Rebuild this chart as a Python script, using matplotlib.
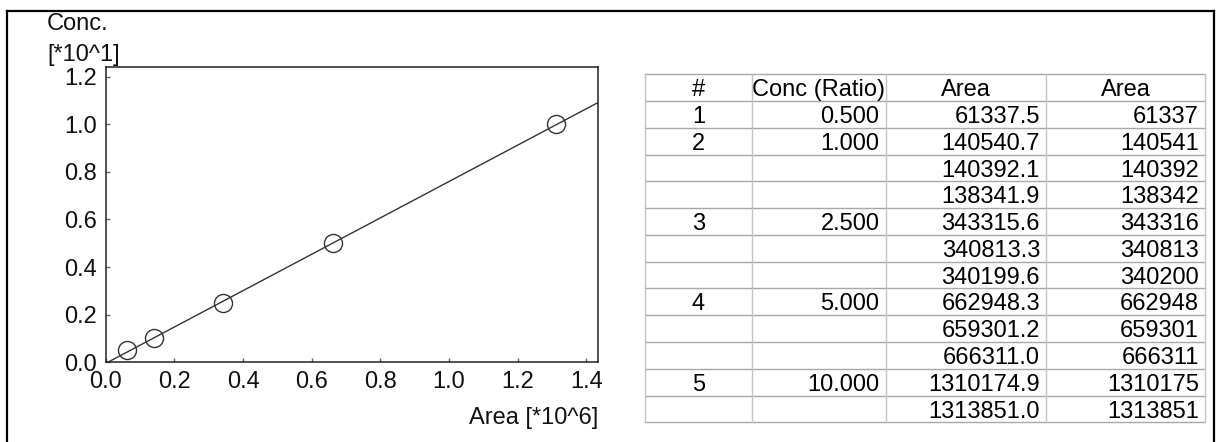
import matplotlib
matplotlib.use("Agg")
import matplotlib.pyplot as plt
from matplotlib.lines import Line2D
import numpy as np

plt.rcParams['font.family'] = ['Liberation Sans', 'DejaVu Sans']

# calibration points (area in 10^6, conc in 10^1)
area_pts = [0.0613, 0.1398, 0.3414, 0.6629, 1.3120]
conc_pts = [0.05, 0.10, 0.25, 0.50, 1.00]

# table contents
tbl_header = ["#", "Conc (Ratio)", "Area", "Area"]
tbl_num = ["1", "2", "", "", "3", "", "", "4", "", "", "5", ""]
tbl_conc = ["0.500", "1.000", "", "", "2.500", "", "", "5.000", "", "", "10.000", ""]
tbl_area = ["61337.5", "140540.7", "140392.1", "138341.9", "343315.6", "340813.3",
            "340199.6", "662948.3", "659301.2", "666311.0", "1310174.9", "1313851.0"]
tbl_area_int = ["61337", "140541", "140392", "138342", "343316", "340813",
                "340200", "662948", "659301", "666311", "1310175", "1313851"]

W, H = 1217, 442
FS = 17
fig = plt.figure(figsize=(W / 100, H / 100), dpi=100)

# outer frame (open at the bottom)
for xs, ys in [([6.7, 6.7], [442, 10.7]), ([6.7, 1214], [10.7, 10.7]), ([1214, 1214], [10.7, 442])]:
    fig.add_artist(Line2D([x / W for x in xs], [1 - y / H for y in ys], color='black', lw=1.6))

# ---- calibration plot
ax = fig.add_axes([105.7 / W, 1 - 362.3 / H, (598 - 105.7) / W, (362.3 - 67.3) / H])
b, a = np.polyfit(area_pts, conc_pts, 1)
fx = np.array([0, 1.434])
ax.plot(fx, a + b * fx, color='#333333', lw=1.0)
ax.plot(area_pts, conc_pts, 'o', mfc='none', mec='#333333', ms=13, mew=1.0)
ax.set_xlim(0, 1.434)
ax.set_ylim(0, 1.239)
ax.set_xticks(np.arange(0, 1.41, 0.2))
ax.set_yticks(np.arange(0, 1.21, 0.2))
ax.set_xticklabels(["%.1f" % v for v in np.arange(0, 1.41, 0.2)])
ax.set_yticklabels(["%.1f" % v for v in np.arange(0, 1.21, 0.2)])
ax.tick_params(direction='in', length=3, width=1, color='#666666', labelsize=FS, labelcolor='#111111')
ax.tick_params(axis='x', pad=6)
ax.tick_params(axis='y', pad=6)
for s in ax.spines.values():
    s.set_color('#222222')
    s.set_linewidth(1.1)

fig.text(47 / W, 1 - 30 / H, "Conc.", fontsize=FS, va='baseline', color='#111111')
fig.text(47 / W, 1 - 61 / H, "[*10^1]", fontsize=FS, va='baseline', color='#111111')
fig.text(598 / W, 1 - 424 / H, "Area [*10^6]", fontsize=FS, ha='right', va='baseline', color='#111111')

# ---- table
tx0, tx1, ty0, ty1 = 645, 1205, 74.3, 422.3
tab = fig.add_axes([tx0 / W, 1 - ty1 / H, (tx1 - tx0) / W, (ty1 - ty0) / H])
tab.set_xlim(0, tx1 - tx0)
tab.set_ylim(ty1 - ty0, 0)
tab.axis('off')
col_edges = [0, 106.7, 240.5, 401, 560]
nrows = len(tbl_area) + 1
rh = (ty1 - ty0) / nrows
base = 22

for r in range(nrows + 1):
    tab.plot([0, 560], [r * rh, r * rh], color='#a8a8a8', lw=1, clip_on=False)
for c in col_edges:
    tab.plot([c, c], [0, nrows * rh], color='#c4c4c4', lw=1, clip_on=False)

for c, txt in enumerate(tbl_header):
    tab.text((col_edges[c] + col_edges[c + 1]) / 2, base, txt, fontsize=FS, ha='center', va='baseline')

pad = 6
for i in range(len(tbl_area)):
    y = (i + 1) * rh + base
    tab.text((col_edges[0] + col_edges[1]) / 2, y, tbl_num[i], fontsize=FS, ha='center', va='baseline')
    tab.text(col_edges[2] - pad, y, tbl_conc[i], fontsize=FS, ha='right', va='baseline')
    tab.text(col_edges[3] - pad, y, tbl_area[i], fontsize=FS, ha='right', va='baseline')
    tab.text(col_edges[4] - pad, y, tbl_area_int[i], fontsize=FS, ha='right', va='baseline')

fig.savefig("out.png", dpi=100)
